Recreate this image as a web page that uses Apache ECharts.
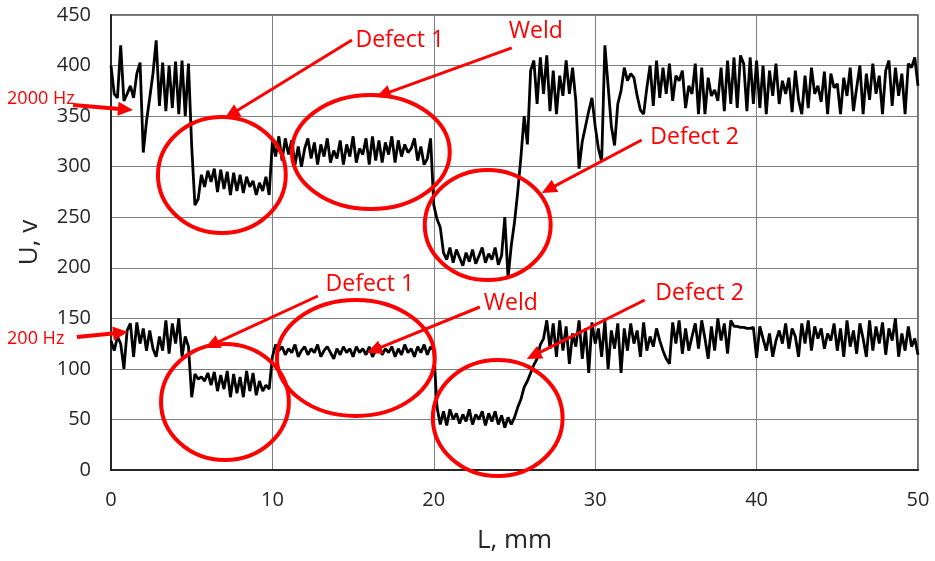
<!DOCTYPE html>
<html>
<head>
<meta charset="utf-8">
<script src="https://cdn.jsdelivr.net/npm/echarts@6/dist/echarts.min.js"></script>
<style>
html,body{margin:0;padding:0;background:#fff;}
#main{width:935px;height:561px;}
</style>
</head>
<body>
<div id="main"></div>
<script>
// L, mm sampling step of the recorded signals
const STEP_MM = 0.2;

// U, v at 2000 Hz (L = 0 .. 50 mm, step 0.2)
const u2000 = [
  400,372,368,420,365,372,380,368,392,403,314,345,368,392,425,360,403,355,400,358,404,352,405,350,402,
  320,262,268,292,280,296,285,298,275,297,278,295,272,294,276,292,274,290,280,286,272,284,276,290,272,
  325,310,330,306,328,312,326,302,320,300,318,328,308,324,302,322,310,328,304,316,
  308,326,302,322,310,330,304,318,312,328,302,330,306,326,304,324,312,330,304,326,
  310,322,314,318,328,306,320,302,308,328,
  262,248,240,215,208,220,205,218,210,202,215,206,218,204,212,220,205,214,208,220,203,212,250,190,222,245,275,310,350,322,
  395,405,362,408,372,410,355,395,352,390,370,405,372,398,365,
  298,325,340,355,368,340,318,305,420,380,340,321,362,375,398,
  385,392,388,370,356,352,378,400,360,405,
  368,398,372,402,365,390,385,395,358,380,
  372,402,352,398,352,388,370,376,365,398,
  355,405,362,408,358,410,402,355,408,362,
  405,358,400,352,395,370,402,362,385,372,
  388,354,395,366,352,390,358,398,372,380,
  364,394,352,392,378,382,352,388,370,398,
  355,378,400,352,392,366,402,372,390,352,
  395,405,360,398,370,392,352,402,398,408,
  380
];

// U, v at 200 Hz (L = 0 .. 50 mm, step 0.2)
const u200 = [
  128,118,132,125,100,138,145,112,146,125,140,118,138,120,112,132,118,148,115,145,125,150,112,132,122,
  72,95,90,92,88,96,84,97,78,94,80,98,72,95,76,92,72,98,78,96,74,88,78,84,80,
  112,124,118,122,114,120,116,124,112,118,122,114,120,116,124,112,118,122,116,110,
  120,114,122,116,120,112,122,116,120,114,122,112,118,124,114,120,116,122,112,120,
  114,124,116,120,112,122,116,124,114,122,
  118,62,45,58,44,60,50,56,46,55,48,60,45,55,50,58,44,56,48,58,45,54,42,52,45,52,62,70,82,88,
  96,104,110,124,130,148,120,145,112,148,118,142,105,135,122,
  148,110,140,96,146,125,140,112,148,100,138,120,145,96,140,
  118,145,125,138,112,146,118,132,122,140,
  128,118,110,105,146,125,148,115,140,118,
  132,145,120,148,130,110,142,118,150,128,
  145,115,148,142,142,141,141,140,140,141,
  111,142,130,118,135,112,128,138,125,145,
  120,140,132,112,145,125,148,118,142,130,
  140,120,135,128,145,118,140,112,148,122,
  138,115,145,130,112,148,118,142,125,146,
  114,140,128,150,112,135,118,142,122,130,
  114
];

// axis ticks
const xTicks = [0, 10, 20, 30, 40, 50];
const yTicks = [0, 50, 100, 150, 200, 250, 300, 350, 400, 450];

// annotation ellipses: [centerL, centerU, radiusL, radiusU]
const ellipses = [
  [6.87, 291.8, 3.96, 57.4],
  [16.10, 314.5, 4.89, 56.4],
  [23.34, 242.3, 3.90, 54.4],
  [7.06, 67.3, 3.96, 57.4],
  [15.17, 110.8, 4.89, 57.4],
  [23.96, 51.4, 4.02, 57.4]
];
// annotation arrows: [fromL, fromU, toL, toU, width]
const arrows = [
  [14.93, 425.2, 7.06, 348.1, 3],
  [24.83, 417.4, 16.41, 368.9, 3],
  [32.88, 326.4, 26.69, 274.0, 3],
  [-2.35, 361.0, 1.36, 356.0, 4],
  [12.82, 172.1, 5.82, 120.7, 3],
  [22.85, 161.2, 15.85, 115.7, 3],
  [33.07, 168.1, 25.76, 109.8, 3],
  [-2.11, 131.5, 1.05, 136.5, 4]
];
// annotation labels: [text, L, U, align, fontSize]
const labels = [
  ['Defect 1', 17.89, 425.3, 'center', 23],
  ['Weld', 26.32, 434.2, 'center', 23],
  ['Defect 2', 36.16, 328.4, 'center', 23],
  ['2000 Hz', -6.44, 366.9, 'left', 18],
  ['Defect 1', 16.04, 184.0, 'center', 23],
  ['Weld', 24.77, 165.2, 'center', 23],
  ['Defect 2', 36.47, 175.1, 'center', 23],
  ['200 Hz', -6.44, 129.6, 'left', 18]
];

const FONT = '"Open Sans", "Noto Sans", sans-serif';
const RED = '#ff0000';

const chart = echarts.init(document.getElementById('main'), null, {renderer: 'canvas'});

const toPairs = arr => arr.map((v, i) => [+(i * STEP_MM).toFixed(2), v]);

chart.setOption({
  animation: false,
  backgroundColor: '#ffffff',
  grid: {
    left: 111, top: 15, width: 807, height: 455,
    show: true, borderColor: '#404040', borderWidth: 1.5, backgroundColor: 'transparent'
  },
  xAxis: {
    type: 'value', min: xTicks[0], max: xTicks[xTicks.length - 1], interval: 10,
    name: 'L, mm', nameLocation: 'middle', nameGap: 58,
    nameTextStyle: {fontFamily: FONT, fontSize: 26, color: '#262626'},
    axisLine: {show: true, lineStyle: {color: '#262626', width: 2}},
    axisTick: {show: false},
    axisLabel: {fontFamily: FONT, fontSize: 20, color: '#262626', margin: 20},
    splitLine: {show: true, lineStyle: {color: '#7f7f7f', width: 1}}
  },
  yAxis: {
    type: 'value', min: yTicks[0], max: yTicks[yTicks.length - 1], interval: 50,
    name: 'U, v', nameLocation: 'middle', nameGap: 68,
    nameTextStyle: {fontFamily: FONT, fontSize: 26, color: '#262626'},
    axisLine: {show: true, lineStyle: {color: '#262626', width: 2}},
    axisTick: {show: false},
    axisLabel: {fontFamily: FONT, fontSize: 20, color: '#262626', margin: 20},
    splitLine: {show: true, lineStyle: {color: '#7f7f7f', width: 1}}
  },
  series: [
    {name: '2000 Hz', type: 'line', data: toPairs(u2000), showSymbol: false, symbol: 'none',
     lineStyle: {color: '#000', width: 2.8}, z: 3},
    {name: '200 Hz', type: 'line', data: toPairs(u200), showSymbol: false, symbol: 'none',
     lineStyle: {color: '#000', width: 2.8}, z: 3}
  ]
});

function px(l, u) { return chart.convertToPixel({gridIndex: 0}, [l, u]); }

const graphics = [];
ellipses.forEach(e => {
  const c = px(e[0], e[1]);
  const r = px(e[0] + e[2], e[1] + e[3]);
  graphics.push({
    type: 'ellipse', z: 100,
    shape: {cx: c[0], cy: c[1], rx: Math.abs(r[0] - c[0]), ry: Math.abs(r[1] - c[1])},
    style: {fill: 'none', stroke: RED, lineWidth: 4}
  });
});
arrows.forEach(a => {
  const p0 = px(a[0], a[1]);
  const p1 = px(a[2], a[3]);
  const dx = p1[0] - p0[0], dy = p1[1] - p0[1];
  const len = Math.sqrt(dx * dx + dy * dy);
  const ux = dx / len, uy = dy / len;
  const hl = 15, hw = 7;
  const bx = p1[0] - ux * hl, by = p1[1] - uy * hl;
  graphics.push({
    type: 'line', z: 101,
    shape: {x1: p0[0], y1: p0[1], x2: bx + ux * 2, y2: by + uy * 2},
    style: {stroke: RED, lineWidth: a[4]}
  });
  graphics.push({
    type: 'polygon', z: 101,
    shape: {points: [[p1[0], p1[1]], [bx - uy * hw, by + ux * hw], [bx + uy * hw, by - ux * hw]]},
    style: {fill: RED}
  });
});
labels.forEach(t => {
  const p = px(t[1], t[2]);
  graphics.push({
    type: 'text', z: 102, x: p[0], y: p[1],
    style: {text: t[0], fill: RED, font: t[4] + 'px ' + FONT, align: t[3], verticalAlign: 'middle'}
  });
});
chart.setOption({graphic: graphics});
</script>
</body>
</html>
